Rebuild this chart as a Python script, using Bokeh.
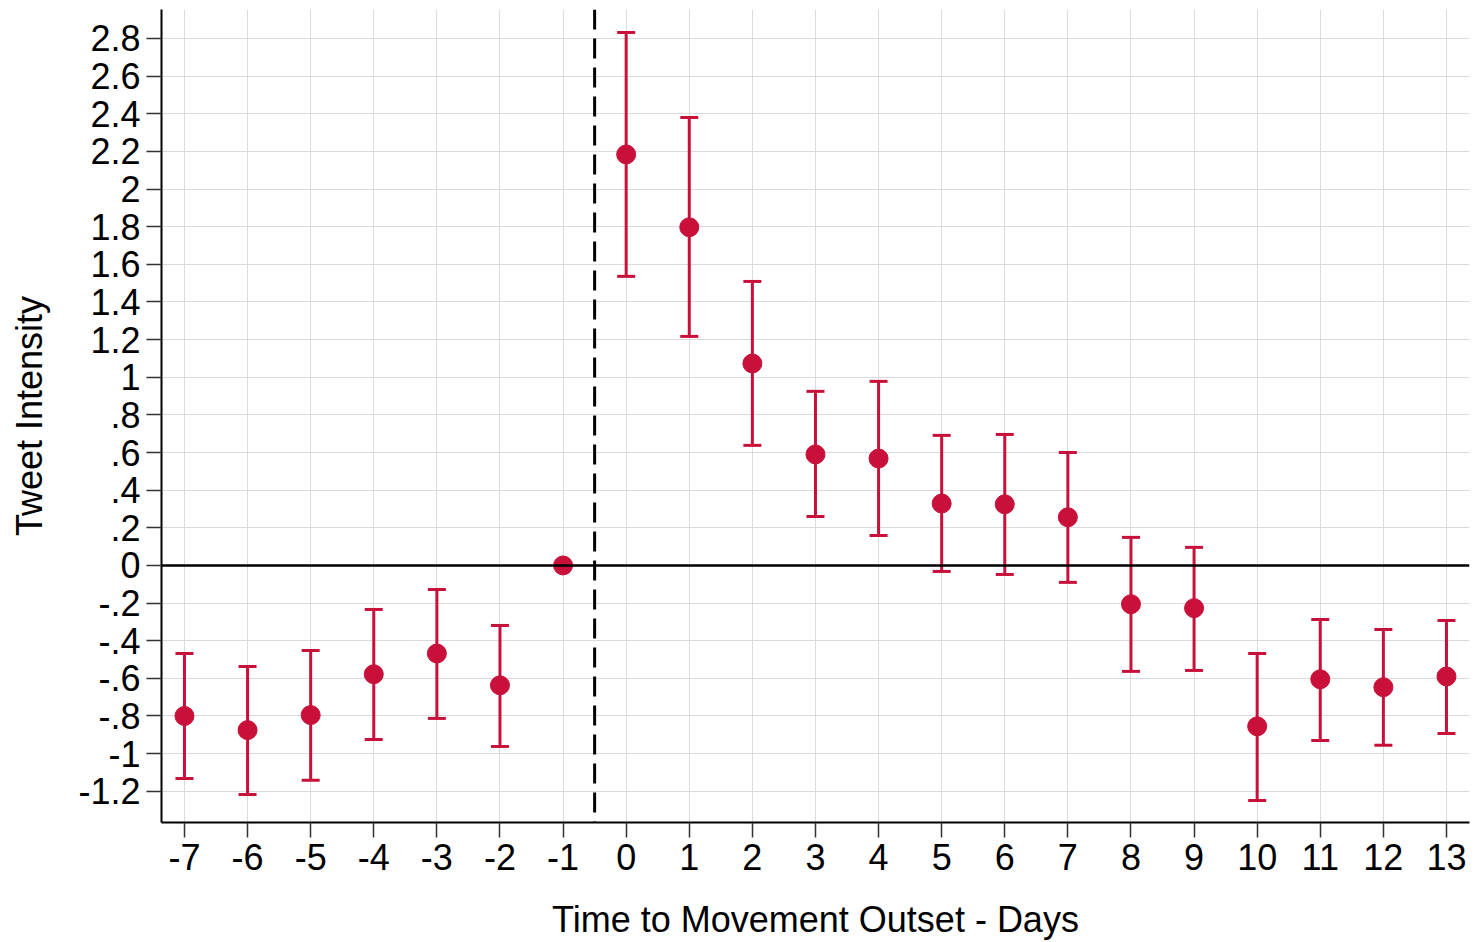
from bokeh.plotting import figure
from bokeh.models import ColumnDataSource, Whisker, TeeHead, Span, FixedTicker
from bokeh.embed import file_html
from bokeh.resources import INLINE

days = [-7, -6, -5, -4, -3, -2, -1, 0, 1, 2, 3, 4, 5, 6, 7, 8, 9, 10, 11, 12, 13]
coef = [-0.80, -0.875, -0.795, -0.578, -0.468, -0.637, 0.0, 2.184, 1.797, 1.073, 0.590, 0.568,
        0.329, 0.325, 0.256, -0.206, -0.227, -0.855, -0.605, -0.647, -0.590]
ci_low = [-1.132, -1.217, -1.142, -0.925, -0.813, -0.962, 0.0, 1.536, 1.217, 0.638, 0.260, 0.159,
          -0.032, -0.048, -0.090, -0.563, -0.558, -1.249, -0.930, -0.956, -0.893]
ci_high = [-0.468, -0.537, -0.452, -0.234, -0.128, -0.319, 0.0, 2.832, 2.380, 1.509, 0.925, 0.978,
           0.691, 0.696, 0.600, 0.149, 0.096, -0.468, -0.287, -0.340, -0.292]

y_ticks = [-1.2, -1.0, -0.8, -0.6, -0.4, -0.2, 0.0, 0.2, 0.4, 0.6, 0.8, 1.0, 1.2, 1.4, 1.6, 1.8,
           2.0, 2.2, 2.4, 2.6, 2.8]
y_labels = ["-1.2", "-1", "-.8", "-.6", "-.4", "-.2", "0", ".2", ".4", ".6", ".8", "1", "1.2", "1.4",
            "1.6", "1.8", "2", "2.2", "2.4", "2.6", "2.8"]

RED = "#C8103A"
FONT = "Liberation Sans"

p = figure(width=1474, height=942, output_backend="svg", toolbar_location=None,
           x_range=(-7.364, 13.365), y_range=(-1.366, 2.954),
           min_border_left=161, min_border_top=9, min_border_right=5, min_border_bottom=120)
p.outline_line_color = None
p.background_fill_color = "white"
p.border_fill_color = "white"

# grid
p.xgrid.ticker = FixedTicker(ticks=days)
p.ygrid.ticker = FixedTicker(ticks=y_ticks)
for g in (p.xgrid, p.ygrid):
    g.grid_line_color = "#dadada"
    g.grid_line_width = 1

# axes
p.xaxis.ticker = FixedTicker(ticks=days)
p.yaxis.ticker = FixedTicker(ticks=y_ticks)
p.yaxis.major_label_overrides = {t: l for t, l in zip(y_ticks, y_labels)}
p.xaxis.major_label_overrides = {d: str(d) for d in days}
for ax in (p.xaxis, p.yaxis):
    ax.axis_line_color = "black"
    ax.axis_line_width = 2
    ax.major_tick_line_color = "#333333"
    ax.major_tick_line_width = 1.5
    ax.major_tick_out = 15
    ax.major_tick_in = 0
    ax.minor_tick_line_color = None
    ax.major_label_text_font = FONT
    ax.major_label_text_font_size = "36px"
    ax.major_label_text_color = "black"
    ax.axis_label_text_font = FONT
    ax.axis_label_text_font_size = "36px"
    ax.axis_label_text_font_style = "normal"
    ax.axis_label_text_color = "black"
p.yaxis.major_label_standoff = 6
p.xaxis.major_label_standoff = 6
p.xaxis.axis_label = "Time to Movement Outset - Days"
p.yaxis.axis_label = "Tweet Intensity"
p.xaxis.axis_label_standoff = 26
p.yaxis.axis_label_standoff = 25

# reference lines
p.add_layout(Span(location=0, dimension="width", line_color="black", line_width=2.5))
p.add_layout(Span(location=-0.5, dimension="height", line_color="black", line_width=3,
                  line_dash="20 9"))

src = ColumnDataSource(data=dict(x=days, y=coef, lo=ci_low, hi=ci_high))
w = Whisker(source=src, base="x", lower="lo", upper="hi", dimension="height",
            line_color=RED, line_width=3,
            upper_head=TeeHead(size=18, line_color=RED, line_width=3),
            lower_head=TeeHead(size=18, line_color=RED, line_width=3))
p.add_layout(w)
p.scatter("x", "y", source=src, size=19, fill_color=RED, line_color=RED)

open("out.html", "w").write(file_html(p, INLINE))
